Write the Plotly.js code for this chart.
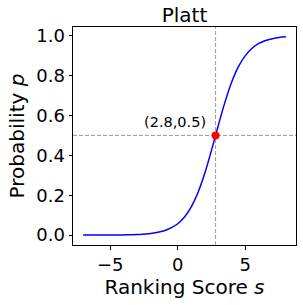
<!DOCTYPE html>
<html>
<head>
<meta charset="utf-8">
<script src="https://cdn.plot.ly/plotly-3.0.1.min.js"></script>
<style>html,body{margin:0;padding:0;background:#fff}#chart{width:303px;height:305px}</style>
</head>
<body>
<div id="chart"></div>
<script>
// Values
const scores = [-7, -6, -5, -4, -3, -2, -1, -0.5, 0, 0.5, 1, 1.5, 2, 2.5, 2.8, 3, 3.5, 4, 4.5, 5, 5.5, 6, 6.5, 7, 7.5, 8];
const probs  = [0.0001, 0.0002, 0.0004, 0.0011, 0.003, 0.008, 0.022, 0.036, 0.057, 0.091, 0.142, 0.214, 0.31, 0.426, 0.5, 0.55, 0.668, 0.769, 0.846, 0.9, 0.937, 0.961, 0.976, 0.985, 0.991, 0.994];
const pointX = [2.8];
const pointY = [0.5];
const pointLabel = "(2.8,0.5)";
const titleText = "Platt";
const xTitle = "Ranking Score <i>s</i>";
const yTitle = "Probability <i>p</i>";
const xTicks = [-5, 0, 5];
const yTicks = [0.0, 0.2, 0.4, 0.6, 0.8, 1.0];
const yTickText = ["0.0", "0.2", "0.4", "0.6", "0.8", "1.0"];
const xTickText = ["\u22125", "0", "5"];

const font = "DejaVu Sans, sans-serif";

const traces = [
  {x: scores, y: probs, mode: "lines", line: {color: "#0000ff", width: 1.5, shape: "spline"}, hoverinfo: "skip"},
  {x: pointX, y: pointY, mode: "markers", marker: {color: "#ff0000", size: 8}, hoverinfo: "skip"}
];

const layout = {
  width: 303, height: 305,
  margin: {l: 73, r: 7, t: 27, b: 60},
  paper_bgcolor: "#fff", plot_bgcolor: "#fff",
  showlegend: false,
  font: {family: font, color: "#000"},
  title: {text: titleText, font: {family: font, size: 20, color: "#000"}, x: 0.609, xanchor: "center", y: 0.95, yanchor: "middle"},
  xaxis: {
    range: [-7.75, 8.75], showgrid: false, zeroline: false,
    showline: true, mirror: true, linecolor: "#000", linewidth: 1,
    ticks: "outside", ticklen: 3.5, tickcolor: "#000", tickwidth: 1,
    tickvals: xTicks, ticktext: xTickText, tickfont: {family: font, size: 18, color: "#000"},
    title: {text: xTitle, font: {family: font, size: 20, color: "#000"}, standoff: 4}
  },
  yaxis: {
    range: [-0.0495, 1.0435], showgrid: false, zeroline: false,
    showline: true, mirror: true, linecolor: "#000", linewidth: 1,
    ticks: "outside", ticklen: 3.5, tickcolor: "#000", tickwidth: 1,
    tickvals: yTicks, ticktext: yTickText, tickfont: {family: font, size: 18, color: "#000"},
    title: {text: yTitle, font: {family: font, size: 20, color: "#000"}, standoff: 6}
  },
  shapes: [
    {type: "line", xref: "paper", x0: 0, x1: 1, yref: "y", y0: pointY[0], y1: pointY[0], line: {color: "#808080", width: 0.8, dash: "4px,2px"}, layer: "below"},
    {type: "line", yref: "paper", y0: 0, y1: 1, xref: "x", x0: pointX[0], x1: pointX[0], line: {color: "#808080", width: 0.8, dash: "4px,2px"}, layer: "below"}
  ],
  annotations: [
    {x: pointX[0], y: pointY[0], xref: "x", yref: "y", text: pointLabel, showarrow: false, xanchor: "right", yanchor: "middle", xshift: -8, yshift: 13, font: {family: font, size: 14.5, color: "#000"}}
  ]
};

Plotly.newPlot("chart", traces, layout, {staticPlot: true, displayModeBar: false});
</script>
</body>
</html>
